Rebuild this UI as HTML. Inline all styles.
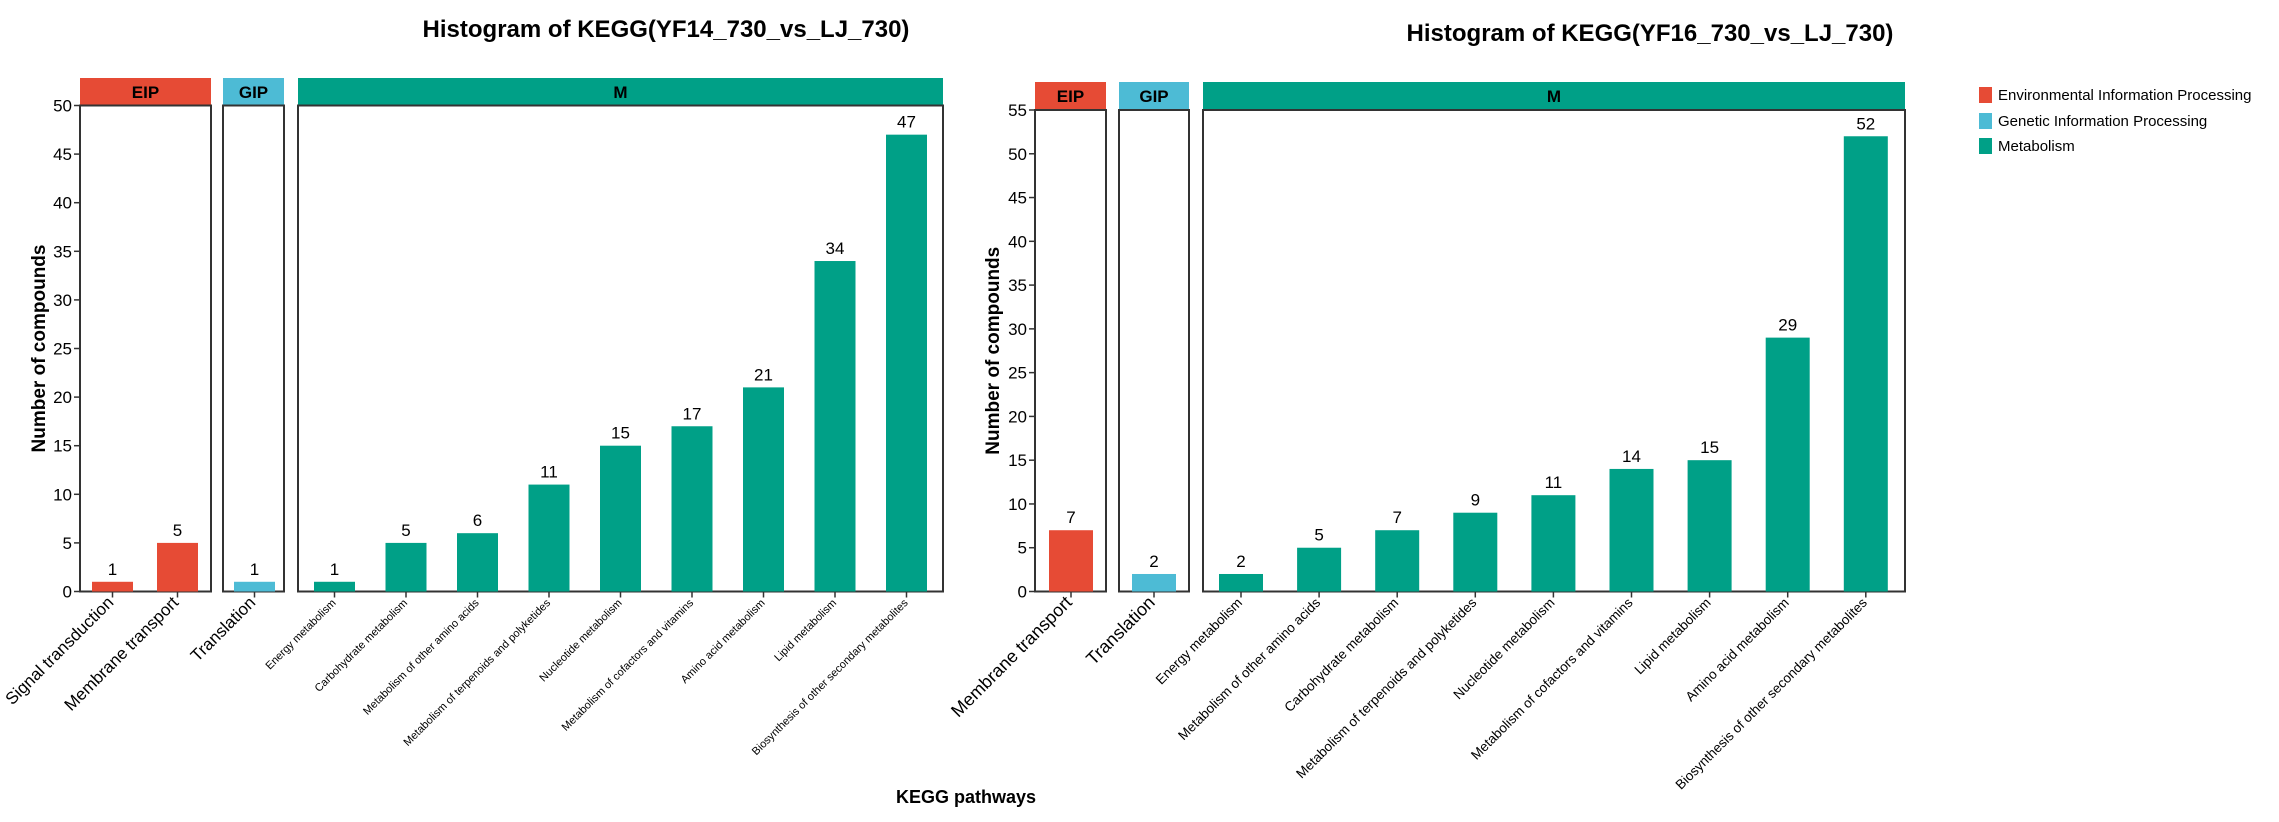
<!DOCTYPE html>
<html><head><meta charset="utf-8"><style>
html,body{margin:0;padding:0;background:#fff;}
svg{display:block;font-family:"Liberation Sans",Arial,sans-serif;}
</style></head><body>
<svg id="chart" width="2279" height="822" viewBox="0 0 2279 822" xmlns="http://www.w3.org/2000/svg">
<text x="666" y="37" text-anchor="middle" font-size="24" font-weight="bold">Histogram of KEGG(YF14_730_vs_LJ_730)</text>
<text x="1650" y="41" text-anchor="middle" font-size="24" font-weight="bold">Histogram of KEGG(YF16_730_vs_LJ_730)</text>
<text x="966" y="803" text-anchor="middle" font-size="18" font-weight="bold">KEGG pathways</text>
<g id="legend">
<rect x="1979" y="87" width="13" height="16" fill="#E64B35"/>
<text x="1998" y="100" font-size="15">Environmental Information Processing</text>
<rect x="1979" y="113" width="13" height="16" fill="#4DBBD5"/>
<text x="1998" y="126" font-size="15">Genetic Information Processing</text>
<rect x="1979" y="138" width="13" height="16" fill="#00A087"/>
<text x="1998" y="151" font-size="15">Metabolism</text>
</g>
</svg>
<script>
const leftCats=["Signal transduction","Membrane transport","Translation","Energy metabolism","Carbohydrate metabolism","Metabolism of other amino acids","Metabolism of terpenoids and polyketides","Nucleotide metabolism","Metabolism of cofactors and vitamins","Amino acid metabolism","Lipid metabolism","Biosynthesis of other secondary metabolites"];
const leftGroups=["EIP","EIP","GIP","M","M","M","M","M","M","M","M","M"];
const leftValues=[1,5,1,1,5,6,11,15,17,21,34,47];
const leftTicks=[0,5,10,15,20,25,30,35,40,45,50];
const rightCats=["Membrane transport","Translation","Energy metabolism","Metabolism of other amino acids","Carbohydrate metabolism","Metabolism of terpenoids and polyketides","Nucleotide metabolism","Metabolism of cofactors and vitamins","Lipid metabolism","Amino acid metabolism","Biosynthesis of other secondary metabolites"];
const rightGroups=["EIP","GIP","M","M","M","M","M","M","M","M","M"];
const rightValues=[7,2,2,5,7,9,11,14,15,29,52];
const rightTicks=[0,5,10,15,20,25,30,35,40,45,50,55];
const colors={EIP:"#E64B35",GIP:"#4DBBD5",M:"#00A087"};
const NS="http://www.w3.org/2000/svg";
const svg=document.getElementById('chart');
function mk(tag,attrs,parent){const e=document.createElementNS(NS,tag);for(const k in attrs)e.setAttribute(k,attrs[k]);(parent||svg).appendChild(e);return e;}

function drawChart(cfg){
  const g=mk('g',{});
  
  
  const y=v=>cfg.y0-(v-0)*(cfg.y0-cfg.yTop)/cfg.yMax;
  cfg.panels.forEach(p=>{
    const s=mk('rect',{x:p.x0,y:cfg.stripTop,width:p.x1-p.x0,height:cfg.yTop-cfg.stripTop,fill:colors[p.g]},g);
    
    
    const st=mk('text',{x:(p.x0+p.x1)/2,y:(cfg.stripTop+cfg.yTop)/2+6,'text-anchor':'middle','font-size':17,'font-weight':'bold'},g);
    st.textContent=p.g;
    
    
    const b=mk('rect',{x:p.x0,y:cfg.yTop,width:p.x1-p.x0,height:cfg.y0-cfg.yTop,fill:'none',stroke:'#333','stroke-width':2},g);
    
    
  });
  cfg.ticks.forEach(t=>{
    mk('line',{x1:cfg.axisX-6,x2:cfg.axisX,y1:y(t),y2:y(t),stroke:'#333','stroke-width':1.5},g);
    const tl=mk('text',{x:cfg.axisX-8,y:y(t)+6,'text-anchor':'end','font-size':17},g);
    tl.textContent=t;
    
    
  });
  const yt=mk('text',{x:0,y:0,'text-anchor':'middle','font-size':19,'font-weight':'bold',transform:`translate(${cfg.yTitleX},${(cfg.yTop+cfg.y0)/2}) rotate(-90)`},g);
  yt.textContent='Number of compounds';
  
  
  let mi=0;
  cfg.cats.forEach((c,i)=>{
    const grp=cfg.groups[i];
    let cx;
    if(grp==='M'){cx=cfg.mStart+mi*cfg.mStep;mi++;}
    else cx=cfg.fixedCenters[i];
    const v=cfg.values[i];
    const r=mk('rect',{x:cx-cfg.bw/2,y:y(v),width:cfg.bw,height:y(0)-y(v),fill:colors[grp]},g);
    
    
    const vl=mk('text',{x:cx,y:y(v)-7,'text-anchor':'middle','font-size':17},g);
    vl.textContent=v;
    
    
    mk('line',{x1:cx,x2:cx,y1:cfg.y0,y2:cfg.y0+6,stroke:'#333','stroke-width':1.5},g);
    const fs=grp==='M'?cfg.mFont:cfg.bigFont;
    const xl=mk('text',{x:0,y:0,'text-anchor':'end','font-size':fs,transform:`translate(${cx+2},${cfg.y0+12}) rotate(-45)`},g);
    xl.textContent=c;
    
    
  });
}
drawChart({name:'left-chart',cats:leftCats,groups:leftGroups,values:leftValues,ticks:leftTicks,yMax:50,y0:591.5,yTop:105.5,stripTop:78,axisX:80,yTitleX:45,
  panels:[{g:'EIP',x0:80,x1:211},{g:'GIP',x0:223,x1:284},{g:'M',x0:298,x1:943}],
  fixedCenters:[112.5,177.5,254.5],mStart:334.5,mStep:71.5,bw:41,mFont:11,bigFont:17});
drawChart({name:'right-chart',cats:rightCats,groups:rightGroups,values:rightValues,ticks:rightTicks,yMax:55,y0:591.5,yTop:110,stripTop:82,axisX:1035,yTitleX:999,
  panels:[{g:'EIP',x0:1035,x1:1106},{g:'GIP',x0:1119,x1:1189},{g:'M',x0:1203,x1:1905}],
  fixedCenters:[1071,1154],mStart:1241,mStep:78.1,bw:44,mFont:13.5,bigFont:18});
</script>
</body></html>
